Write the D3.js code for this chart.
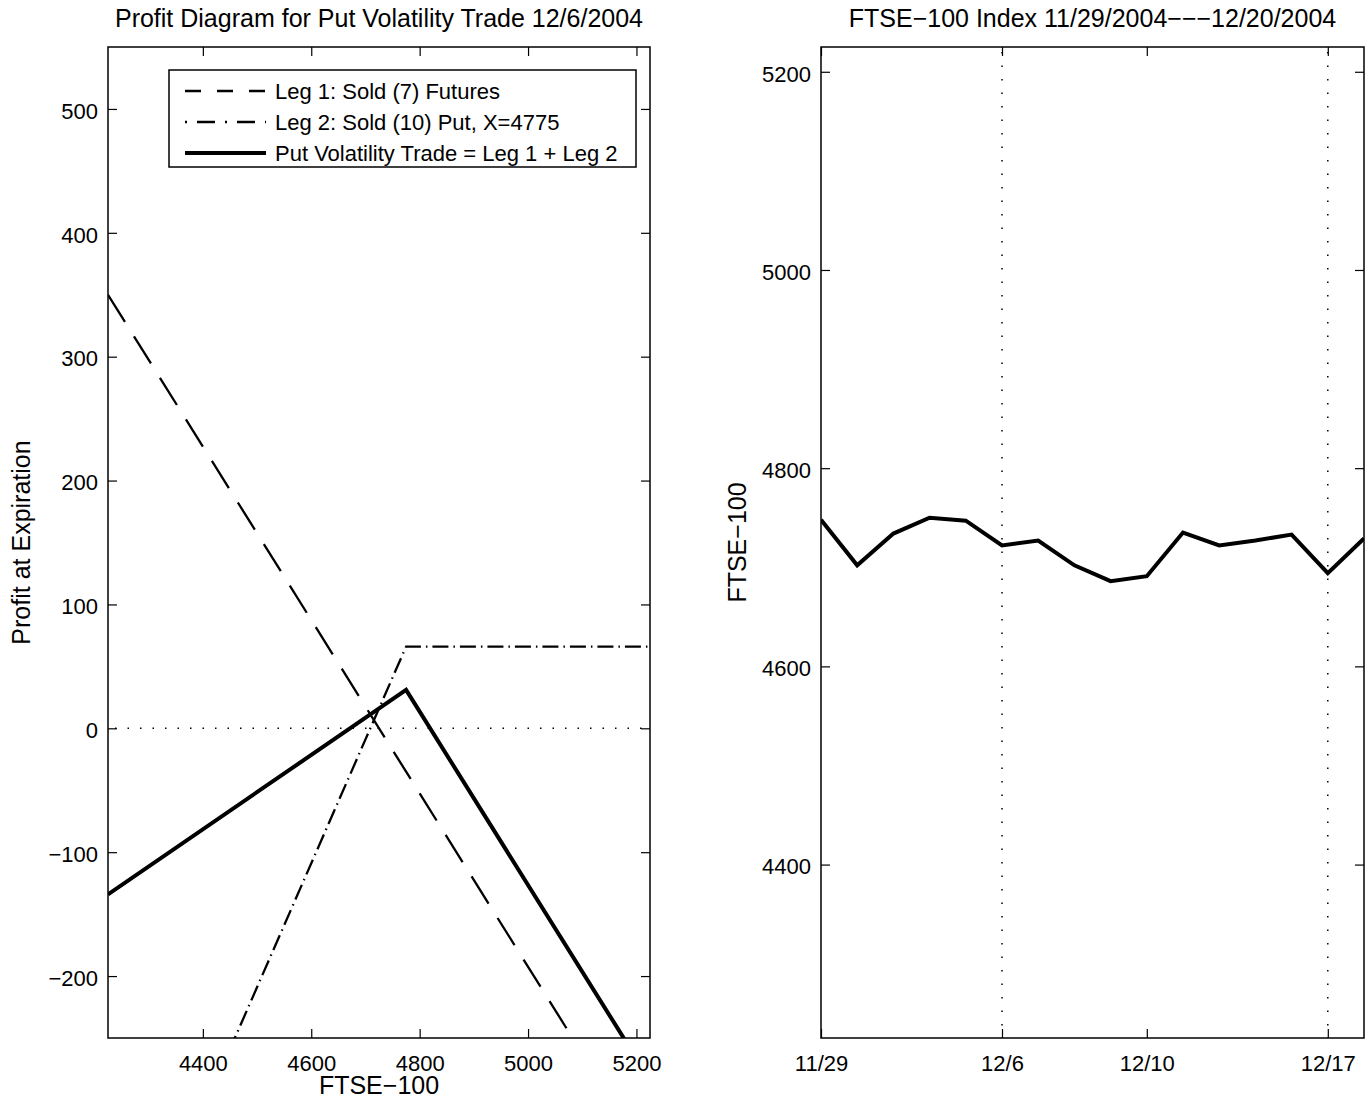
<!DOCTYPE html>
<html>
<head>
<meta charset="utf-8">
<script src="https://cdn.jsdelivr.net/npm/d3@7"></script>
<style>
  body { margin: 0; background: #fff; }
  svg text { font-family: "Liberation Sans", Arial, sans-serif; font-size: 22px; fill: #000; }
  svg text.label { font-size: 25px; }
</style>
</head>
<body>
<svg id="chart" width="1368" height="1104"></svg>
<script>
// Payoff diagram values at the break points
const payoffPrices = [4225, 4775, 5225];
const leg1Profit = [350, -35, -350];
const leg2Profit = [-484, 66, 66];
const tradeProfit = [-134, 31, -284];
const profitTicks = [-200, -100, 0, 100, 200, 300, 400, 500];
const priceTicks = [4400, 4600, 4800, 5000, 5200];

// FTSE-100 closes, trading days 11/29 - 12/20
const tradeDates = ['11/29', '11/30', '12/1', '12/2', '12/3', '12/6', '12/7', '12/8',
                    '12/9', '12/10', '12/13', '12/14', '12/15', '12/16', '12/17', '12/20'];
const ftseClose = [4748, 4702, 4734, 4750, 4747, 4722, 4727, 4702,
                   4686, 4691, 4735, 4722, 4727, 4733, 4694, 4729];
const dateTicks = ['11/29', '12/6', '12/10', '12/17'];
const dateGrid = ['12/6', '12/17'];
const indexTicks = [4400, 4600, 4800, 5000, 5200];

const svg = d3.select('#chart');

// helper: box with inward ticks on all four sides
function drawBox(g, x, y, xTicks, yTicks, xFmt) {
    const [x0, x1] = x.range();
    const [y0, y1] = y.range();
    const tk = 9;
    const bottom = d3.axisBottom(x).tickValues(xTicks).tickSizeInner(-tk).tickSizeOuter(0).tickPadding(17).tickFormat(xFmt);
    const top = d3.axisTop(x).tickValues(xTicks).tickSizeInner(-tk).tickSizeOuter(0).tickFormat('');
    const left = d3.axisLeft(y).tickValues(yTicks).tickSizeInner(-tk).tickSizeOuter(0).tickPadding(10).tickFormat(d3.format('d'));
    const right = d3.axisRight(y).tickValues(yTicks).tickSizeInner(-tk).tickSizeOuter(0).tickFormat('');
    g.append('g').attr('transform', `translate(0,${y0})`).call(bottom);
    g.append('g').attr('transform', `translate(0,${y1})`).call(top);
    const ly = g.append('g').attr('transform', `translate(${x0},0)`).call(left);
    g.append('g').attr('transform', `translate(${x1},0)`).call(right);
    ly.selectAll('.tick text').attr('dy', '0.42em');
    g.selectAll('.domain').remove();
    g.selectAll('.tick line').attr('stroke', '#000').attr('stroke-width', 1.2);
    g.selectAll('.tick text').attr('font-size', 22).attr('font-family', '"Liberation Sans", Arial, sans-serif')
        .text(function() { return d3.select(this).text().replace(/^-|^\u2212/, '\u2212'); });
    g.append('rect')
        .attr('x', x0).attr('y', y1)
        .attr('width', x1 - x0).attr('height', y0 - y1)
        .attr('fill', 'none').attr('stroke', '#000').attr('stroke-width', 1.5);
}

// ---------- left panel: profit diagram ----------
const L = {left: 108, right: 650, top: 47, bottom: 1038};
const xP = d3.scaleLinear().domain([4225, 5225]).range([L.left, L.right]);
const yP = d3.scaleLinear().domain([-250, 550]).range([L.bottom, L.top]);

const gl = svg.append('g');
svg.append('clipPath').attr('id', 'clipL').append('rect')
    .attr('x', L.left).attr('y', L.top).attr('width', L.right - L.left).attr('height', L.bottom - L.top);

const plotL = gl.append('g').attr('clip-path', 'url(#clipL)');

// zero line
plotL.append('line')
    .attr('x1', xP(4225) + 7).attr('x2', xP(5225))
    .attr('y1', yP(0)).attr('y2', yP(0))
    .attr('stroke', '#000').attr('stroke-width', 1.5).attr('stroke-dasharray', '1.5,11');

const lineP = d3.line().x((d, i) => xP(payoffPrices[i])).y(d => yP(d));

plotL.append('path').datum(leg1Profit)
    .attr('d', lineP).attr('fill', 'none').attr('stroke', '#000')
    .attr('stroke-width', 2.3).attr('stroke-dasharray', '32,17');
plotL.append('path').datum(leg2Profit)
    .attr('d', lineP).attr('fill', 'none').attr('stroke', '#000')
    .attr('stroke-width', 2.3).attr('stroke-dasharray', '16,5,1.5,5');
plotL.append('path').datum(tradeProfit)
    .attr('d', lineP).attr('fill', 'none').attr('stroke', '#000')
    .attr('stroke-width', 4);

drawBox(gl, xP, yP, priceTicks, profitTicks, d3.format('d'));

gl.append('text').attr('class', 'label').attr('x', (L.left + L.right) / 2).attr('y', 27)
    .attr('text-anchor', 'middle').text('Profit Diagram for Put Volatility Trade 12/6/2004');
gl.append('text').attr('class', 'label').attr('x', (L.left + L.right) / 2).attr('y', 1094)
    .attr('text-anchor', 'middle').text('FTSE\u2212100');
gl.append('text').attr('class', 'label').attr('transform', `translate(30,${(L.top + L.bottom) / 2}) rotate(-90)`)
    .attr('text-anchor', 'middle').text('Profit at Expiration');

// legend
const legendItems = [
    {label: 'Leg 1: Sold (7) Futures', dash: '16,16', w: 2.3},
    {label: 'Leg 2: Sold (10) Put, X=4775', dash: '2,10,18,10', w: 2.3},
    {label: 'Put Volatility Trade = Leg 1 + Leg 2', dash: null, w: 4}
];
const lg = gl.append('g');
lg.append('rect').attr('x', 169).attr('y', 70).attr('width', 467).attr('height', 97)
    .attr('fill', '#fff').attr('stroke', '#000').attr('stroke-width', 1.5);
legendItems.forEach((d, i) => {
    const yy = 91 + i * 31;
    lg.append('line').attr('x1', 185).attr('x2', 266).attr('y1', yy).attr('y2', yy)
        .attr('stroke', '#000').attr('stroke-width', d.w)
        .attr('stroke-dasharray', d.dash);
    lg.append('text').attr('x', 275).attr('y', yy + 8).text(d.label);
});

// ---------- right panel: FTSE-100 index ----------
const R = {left: 821, right: 1364, top: 47, bottom: 1038};
const xD = d3.scaleLinear().domain([0, tradeDates.length - 1]).range([R.left, R.right]);
const yD = d3.scaleLinear().domain([4225, 5225]).range([R.bottom, R.top]);

const gr = svg.append('g');
svg.append('clipPath').attr('id', 'clipR').append('rect')
    .attr('x', R.left).attr('y', R.top).attr('width', R.right - R.left).attr('height', R.bottom - R.top);
const plotR = gr.append('g').attr('clip-path', 'url(#clipR)');

plotR.selectAll('line.grid').data(dateGrid).enter().append('line')
    .attr('class', 'grid')
    .attr('x1', d => xD(tradeDates.indexOf(d))).attr('x2', d => xD(tradeDates.indexOf(d)))
    .attr('y1', R.top + 5).attr('y2', R.bottom)
    .attr('stroke', '#000').attr('stroke-width', 1.5).attr('stroke-dasharray', '1.5,12');

plotR.append('path').datum(ftseClose)
    .attr('d', d3.line().x((d, i) => xD(i)).y(d => yD(d)))
    .attr('fill', 'none').attr('stroke', '#000').attr('stroke-width', 4)
    .attr('stroke-linejoin', 'miter');

drawBox(gr, xD, yD, dateTicks.map(d => tradeDates.indexOf(d)), indexTicks, i => tradeDates[i]);

gr.append('text').attr('class', 'label').attr('x', (R.left + R.right) / 2).attr('y', 27)
    .attr('text-anchor', 'middle').text('FTSE\u2212100 Index 11/29/2004\u2212\u2212\u221212/20/2004');
gr.append('text').attr('class', 'label').attr('transform', `translate(746,${(R.top + R.bottom) / 2}) rotate(-90)`)
    .attr('text-anchor', 'middle').text('FTSE\u2212100');
</script>
</body>
</html>
